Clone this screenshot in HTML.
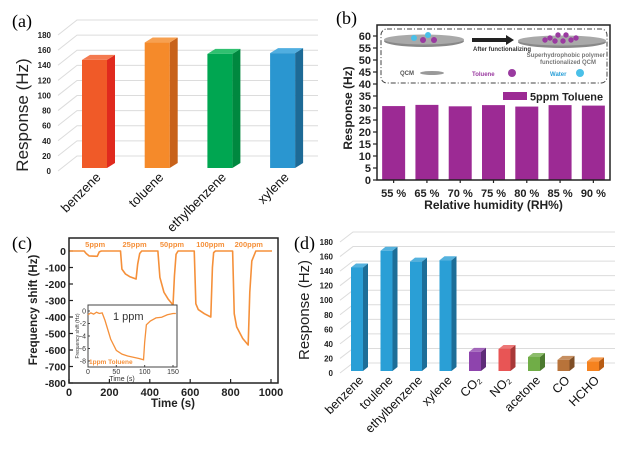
<!DOCTYPE html>
<html><head><meta charset="utf-8"><style>
html,body{margin:0;padding:0;background:#fff;}
svg{display:block;font-family:"Liberation Sans",sans-serif;}
</style></head><body>
<svg id="fig" width="633" height="452" viewBox="0 0 633 452" xmlns="http://www.w3.org/2000/svg">
<g id="pa"></g>
<g id="pb"></g>
<g id="pc"></g>
<g id="pd"></g>
</svg>
<script>
// ---- Panel (a) data
const aCats = ["benzene","toluene","ethylbenzene","xylene"];
const aVals = [147,170,155,156];
const aTicks = [0,20,40,60,80,100,120,140,160,180];
// ---- Panel (b) data
const bCats = ["55 %","65 %","70 %","75 %","80 %","85 %","90 %"];
const bVals = [30.8,31.3,30.7,31.2,30.6,31.2,31.0];
const bTicks = [0,5,10,15,20,25,30,35,40,45,50,55,60];
// ---- Panel (c) data
const cTime = [0,75,85,100,140,150,160,255,262,280,300,332,340,350,360,440,450,470,490,515,522,530,540,620,628,640,670,702,710,716,725,810,818,830,860,887,895,905,925,1005];
const cShift = [0,0,-15,-30,-32,-5,0,0,-110,-140,-155,-170,-80,-15,0,0,-160,-250,-290,-327,-150,-20,0,0,-320,-355,-380,-400,-100,-10,0,0,-380,-460,-530,-570,-250,-60,0,0];
const cTicksX = [0,200,400,600,800,1000];
const cTicksY = [0,-100,-200,-300,-400,-500,-600,-700,-800];
const cConc = [["5ppm",80],["25ppm",265],["50ppm",450],["100ppm",630],["200ppm",820]];
const iTime = [0,5,10,15,20,25,30,40,50,60,70,80,90,98,100,103,110,120,130,140,150,155];
const iShift = [-0.6,-0.3,-0.5,-0.2,-0.4,-0.3,-1.5,-4.5,-6.3,-6.9,-7.2,-7.4,-7.6,-7.8,-5,-2.2,-1.6,-1.1,-1.0,-0.6,-0.4,-0.4];
const iTicksX = [0,50,100,150];
const iTicksY = [0,-2,-4,-6,-8];
// ---- Panel (d) data
const dCats = ["benzene","toulene","ethylbenzene","xylene","CO₂","NO₂","acetone","CO","HCHO"];
const dVals = [145,168,153,155,29,33,22,18,16];
const dTicks = [0,20,40,60,80,100,120,140,160,180];

const NS="http://www.w3.org/2000/svg";
function mk(parent,tag,attrs,txt){const e=document.createElementNS(NS,tag);for(const k in attrs)e.setAttribute(k,attrs[k]);if(txt!==undefined)e.textContent=txt;parent.appendChild(e);return e;}

// ================= Panel A =================
(function(){
const g=document.getElementById('pa');
const y0=171, k=(171-35)/180, yA=v=>y0-v*k;
const dx=19, dy=-15;
let t=mk(g,'text',{x:12,y:27,'font-family':'Liberation Serif, serif','font-size':18},'(a)');

aTicks.forEach(v=>{const y=yA(v);
 let l=mk(g,'polyline',{points:`58,${y} ${58+dx},${y+dy} 318,${y+dy}`,fill:'none',stroke:'#dcdcdc','stroke-width':1});
 
 let tx=mk(g,'text',{x:51,y:y+3,'text-anchor':'end','font-size':8,'font-weight':'bold',fill:'#222'},v);
 
});
t=mk(g,'text',{transform:'translate(28,115) rotate(-90)','text-anchor':'middle','font-size':17,fill:'#222'},'Response (Hz)');

const cols=[['#f05a28','#e02a1e','#f47a50'],['#f58a2a','#c8621a','#f7a050'],['#00a651','#00883f','#30c070'],['#2a96d0','#1d6a96','#50aee0']];
const x0=82,step=62.7,w=25,d=8,h=5;
aCats.forEach((c,i)=>{const x=x0+i*step, yt=yA(aVals[i]), yb=168;
 const bg=mk(g,'g',{});
 mk(bg,'polygon',{points:`${x+w},${yt} ${x+w+d},${yt-h} ${x+w+d},${yb-h} ${x+w},${yb}`,fill:cols[i][1]});
 mk(bg,'polygon',{points:`${x},${yt} ${x+d},${yt-h} ${x+w+d},${yt-h} ${x+w},${yt}`,fill:cols[i][2]});
 mk(bg,'rect',{x:x,y:yt,width:w,height:yb-yt,fill:cols[i][0]});
 let tl=mk(g,'text',{transform:`translate(${x+w/2+7},178) rotate(-45)`,'text-anchor':'end','font-size':13,fill:'#111'},c);
 
});
})();

// ================= Panel B =================
(function(){
const g=document.getElementById('pb');
const L=377,R=610,T=25,B=180, k=12/5, yB=v=>B-v*k;
let t=mk(g,'text',{x:336,y:24,'font-family':'Liberation Serif, serif','font-size':18},'(b)');

bTicks.forEach(v=>{const y=yB(v);
 mk(g,'line',{x1:L-4,x2:L,y1:y,y2:y,stroke:'#222','stroke-width':1.2});
 let tx=mk(g,'text',{x:L-6,y:y+4,'text-anchor':'end','font-size':11,'font-weight':'bold',fill:'#222'},v);
 
});
const bw=(R-L)/bCats.length;
bCats.forEach((c,i)=>{const cx=L+bw*(i+0.5), y=yB(bVals[i]);
 let r=mk(g,'rect',{x:cx-11.5,y:y,width:23,height:B-y,fill:'#9c2a94'});
 
 mk(g,'line',{x1:cx,x2:cx,y1:B,y2:B+3,stroke:'#222','stroke-width':1.2});
 let tx=mk(g,'text',{x:cx,y:197,'text-anchor':'middle','font-size':11,'font-weight':'bold',fill:'#222'},c);
 
});
let f=mk(g,'rect',{x:L,y:T,width:R-L,height:B-T,fill:'none',stroke:'#222','stroke-width':1.5});

t=mk(g,'text',{x:(L+R)/2,y:209,'text-anchor':'middle','font-size':12,'font-weight':'bold',fill:'#222'},'Relative humidity (RH%)');

t=mk(g,'text',{transform:'translate(352,108) rotate(-90)','text-anchor':'middle','font-size':12,'font-weight':'bold',fill:'#222'},'Response (Hz)');

const lg=mk(g,'g',{});
mk(lg,'rect',{x:503,y:92,width:24,height:8,fill:'#9c2a94'});
mk(lg,'text',{x:530,y:100.5,'font-size':11,'font-weight':'bold',fill:'#222',textLength:73,lengthAdjust:'spacingAndGlyphs'},'5ppm Toluene');
const s=mk(g,'g',{});
mk(s,'rect',{x:381,y:29,width:226,height:54,rx:6,fill:'none',stroke:'#444','stroke-width':1,'stroke-dasharray':'5,2,1,2'});
mk(s,'ellipse',{cx:424,cy:41,rx:40,ry:6,fill:'#888'});
mk(s,'ellipse',{cx:424,cy:39.5,rx:40,ry:5,fill:'#a9a9a9'});
[[414,38,'#4ac0e8'],[428,35,'#4ac0e8'],[423,40,'#9a3aa0'],[434,40,'#9a3aa0']].forEach(p=>mk(s,'circle',{cx:p[0],cy:p[1],r:3,fill:p[2]}));
mk(s,'rect',{x:472,y:38,width:35,height:4,fill:'#222'});
mk(s,'polygon',{points:'506,35 514,40 506,45',fill:'#222'});
mk(s,'text',{x:473,y:51,'font-size':6,'font-weight':'bold',fill:'#333'},'After functionalizing');
mk(s,'ellipse',{cx:562,cy:42,rx:44,ry:6,fill:'#888'});
mk(s,'ellipse',{cx:562,cy:40.5,rx:44,ry:5,fill:'#a9a9a9'});
[[550,38],[558,35],[566,35],[555,41],[563,41],[571,40],[576,38],[545,40]].forEach(p=>mk(s,'circle',{cx:p[0],cy:p[1],r:2.7,fill:'#9a3aa0'}));
mk(s,'text',{x:605,y:57,'text-anchor':'end','font-size':6,'font-weight':'bold',fill:'#777'},'Superhydrophobic polymer');
mk(s,'text',{x:596,y:64,'text-anchor':'end','font-size':6,'font-weight':'bold',fill:'#777'},'functionalized QCM');
mk(s,'text',{x:400,y:75,'font-size':6,'font-weight':'bold',fill:'#555'},'QCM');
mk(s,'ellipse',{cx:432,cy:73,rx:12,ry:2,fill:'#999'});
mk(s,'text',{x:472,y:76,'font-size':6,'font-weight':'bold',fill:'#9a3aa0'},'Toluene');
mk(s,'circle',{cx:512,cy:73,r:4,fill:'#9a3aa0'});
mk(s,'text',{x:550,y:76,'font-size':6,'font-weight':'bold',fill:'#2aa0d8'},'Water');
mk(s,'circle',{cx:580,cy:73,r:4,fill:'#4ac0e8'});
})();

// ================= Panel C =================
(function(){
const g=document.getElementById('pc');
const L=69,R=278,T=238,B=383;
const xC=v=>L+v*0.202, yC=v=>251+(-v)*0.165;
let t=mk(g,'text',{x:12,y:249,'font-family':'Liberation Serif, serif','font-size':18},'(c)');

cTicksY.forEach(v=>{const y=yC(v);
 mk(g,'line',{x1:L,x2:L+4,y1:y,y2:y,stroke:'#222','stroke-width':1.2});
 let tx=mk(g,'text',{x:L-3,y:y+4,'text-anchor':'end','font-size':10.5,'font-weight':'bold',fill:'#222'},v);
 
});
cTicksX.forEach(v=>{const x=xC(v);
 mk(g,'line',{x1:x,x2:x,y1:B,y2:B-4,stroke:'#222','stroke-width':1.2});
 let tx=mk(g,'text',{x:x,y:396,'text-anchor':'middle','font-size':11,'font-weight':'bold',fill:'#222'},v);
 
});
let p=mk(g,'polyline',{points:cTime.map((v,i)=>xC(v)+','+yC(cShift[i])).join(' '),fill:'none',stroke:'#f5903a','stroke-width':1.6,'stroke-linejoin':'round'});

cConc.forEach(c=>{let tx=mk(g,'text',{x:xC(c[1]),y:247,'font-size':7.5,'font-weight':'bold',fill:'#f5903a'},c[0]);
 });
let f=mk(g,'rect',{x:L,y:T,width:R-L,height:B-T,fill:'none',stroke:'#222','stroke-width':1.5});

t=mk(g,'text',{x:173,y:407,'text-anchor':'middle','font-size':11.5,'font-weight':'bold',fill:'#222'},'Time (s)');

t=mk(g,'text',{transform:'translate(37,310) rotate(-90)','text-anchor':'middle','font-size':11.5,'font-weight':'bold',fill:'#222'},'Frequency shift (Hz)');

const ig=mk(g,'g',{});
const iL=88,iR=177,iT=305,iB=367;
const xi=v=>iL+v*(85/150), yi=v=>311+(-v)*(50/8);
mk(ig,'rect',{x:iL,y:iT,width:iR-iL,height:iB-iT,fill:'#fff',stroke:'#444','stroke-width':1});
iTicksY.forEach(v=>{mk(ig,'line',{x1:iL,x2:iL+2,y1:yi(v),y2:yi(v),stroke:'#444'});
 let tx=mk(ig,'text',{x:iL-2,y:yi(v)+2.5,'text-anchor':'end','font-size':7,fill:'#333'},v);
 });
iTicksX.forEach(v=>{mk(ig,'line',{x1:xi(v),x2:xi(v),y1:iB,y2:iB-2,stroke:'#444'});
 let tx=mk(ig,'text',{x:xi(v),y:iB+7,'text-anchor':'middle','font-size':7,fill:'#333'},v);
 });
let ip=mk(ig,'polyline',{points:iTime.map((v,i)=>xi(v)+','+yi(iShift[i])).join(' '),fill:'none',stroke:'#f5903a','stroke-width':1.3});

mk(ig,'text',{x:113,y:320,'font-size':11,fill:'#333'},'1 ppm');
mk(ig,'text',{x:89,y:364,'font-size':6.5,'font-weight':'bold',fill:'#f5903a'},'1ppm Toluene');
mk(ig,'text',{x:122,y:381,'text-anchor':'middle','font-size':7,fill:'#333'},'Time (s)');
mk(ig,'text',{transform:'translate(79,336) rotate(-90)','text-anchor':'middle','font-size':5,fill:'#333'},'Frequency shift (Hz)');
})();

// ================= Panel D =================
(function(){
const g=document.getElementById('pd');
const y0=373, k=(373-242)/180, yD=v=>y0-v*k;
const dx=13, dy=-10;
let t=mk(g,'text',{x:294,y:249,'font-family':'Liberation Serif, serif','font-size':18},'(d)');

t=mk(g,'text',{transform:'translate(309,310) rotate(-90)','text-anchor':'middle','font-size':15,fill:'#222'},'Response (Hz)');

dTicks.forEach(v=>{const y=yD(v);
 let l=mk(g,'polyline',{points:`340,${y} ${340+dx},${y+dy} 615,${y+dy}`,fill:'none',stroke:'#dcdcdc','stroke-width':1});
 
 let tx=mk(g,'text',{x:333,y:y+3,'text-anchor':'end','font-size':8,'font-weight':'bold',fill:'#222'},v);
 
});
const cols=['#2a9fd6','#2a9fd6','#2a9fd6','#2a9fd6','#8e44ad','#e85555','#70ad47','#b8733a','#f5821f'];
const side=['#1d6e98','#1d6e98','#1d6e98','#1d6e98','#5e2c78','#a83838','#4c7a2f','#7e4e26','#b85c14'];
const x0=351,step=29.5,w=12,d=5,h=4,yb=371;
dCats.forEach((c,i)=>{const x=x0+i*step, yt=yD(dVals[i]);
 const bg=mk(g,'g',{});
 mk(bg,'polygon',{points:`${x+w},${yt} ${x+w+d},${yt-h} ${x+w+d},${yb-h} ${x+w},${yb}`,fill:side[i]});
 mk(bg,'polygon',{points:`${x},${yt} ${x+d},${yt-h} ${x+w+d},${yt-h} ${x+w},${yt}`,fill:cols[i],opacity:0.8});
 mk(bg,'rect',{x:x,y:yt,width:w,height:yb-yt,fill:cols[i]});
 let tl=mk(g,'text',{transform:`translate(${x+w/2+7},381) rotate(-45)`,'text-anchor':'end','font-size':12.5,fill:'#111'},c);
 
});
})();
</script>
</body></html>
